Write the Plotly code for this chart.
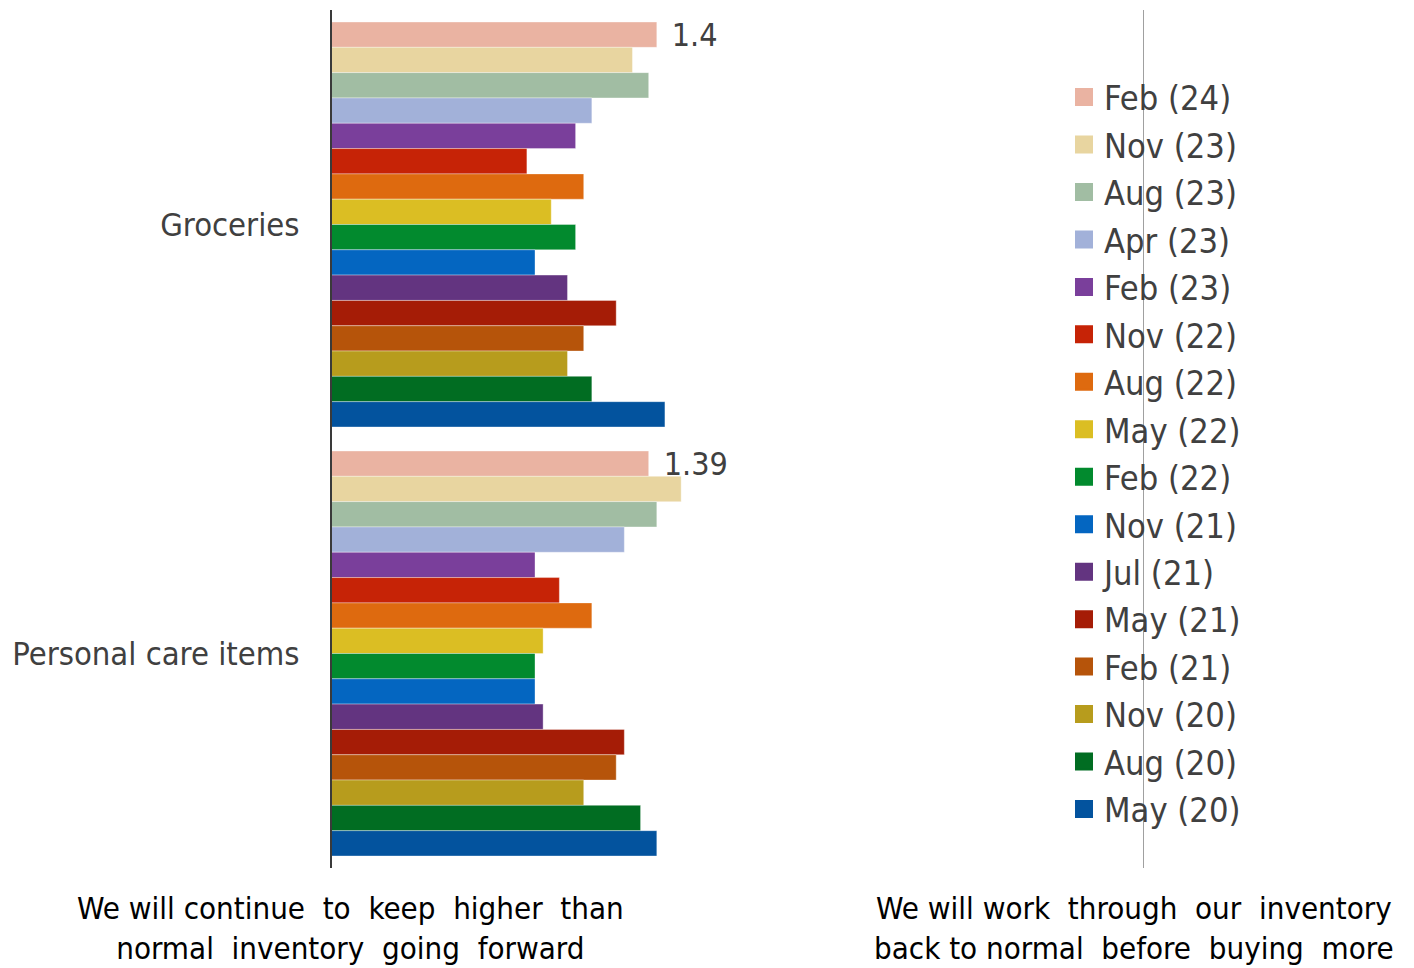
import plotly.graph_objects as go

categories = ["Groceries", "Personal care items"]
series = ["Feb (24)", "Nov (23)", "Aug (23)", "Apr (23)", "Feb (23)", "Nov (22)",
          "Aug (22)", "May (22)", "Feb (22)", "Nov (21)", "Jul (21)", "May (21)",
          "Feb (21)", "Nov (20)", "Aug (20)", "May (20)"]
groceries = [1.40, 1.37, 1.39, 1.32, 1.30, 1.24, 1.31, 1.27, 1.30, 1.25, 1.29, 1.35,
             1.31, 1.29, 1.32, 1.41]
personal_care = [1.39, 1.43, 1.40, 1.36, 1.25, 1.28, 1.32, 1.26, 1.25, 1.25, 1.26, 1.36,
                 1.35, 1.31, 1.38, 1.40]
colors = ["#EAB3A2", "#E8D5A0", "#A1BDA3", "#A2B1D9", "#7A3F9B", "#C62306",
          "#DE6A0F", "#DBBE23", "#028A2E", "#0466C1", "#633480", "#A51C06",
          "#B6540A", "#B79C1D", "#016D22", "#03539E"]
labelled_series = "Feb (24)"
left_label = ("We will continue\u00a0 to\u00a0 keep\u00a0 higher\u00a0 than<br>"
              "normal\u00a0 inventory\u00a0 going\u00a0 forward")
right_label = ("We will work\u00a0 through\u00a0 our\u00a0 inventory<br>"
               "back to normal\u00a0 before\u00a0 buying\u00a0 more")

FONT = "DejaVu Sans Condensed, DejaVu Sans, sans-serif"
TXT = "#404040"

fig = go.Figure()
for i, name in enumerate(series):
    vals = [groceries[i], personal_care[i]]
    show_text = name == labelled_series
    fig.add_trace(go.Bar(
        y=categories, x=vals, orientation="h", name=name,
        marker=dict(color=colors[i], line=dict(color="rgba(255,255,255,0.35)", width=1)),
        text=["\u00a0\u200a" + f"{v:g}" for v in vals] if show_text else None,
        textposition="outside" if show_text else None,
        constraintext="none", cliponaxis=False,
        textfont=dict(size=32, color=TXT, family=FONT),
        showlegend=False, legendgroup=name,
    ))
for i, name in enumerate(series):
    fig.add_trace(go.Scatter(
        x=[None], y=[None], mode="markers", name=name, legendgroup=name,
        marker=dict(symbol="square", size=18, color=colors[i],
                    line=dict(color=colors[i], width=2)),
        showlegend=True,
    ))

fig.add_shape(type="line", xref="x", yref="paper", x0=2, x1=2, y0=0, y1=1,
              line=dict(color="#A0A0A0", width=2))

fig.add_annotation(text=left_label, xref="paper", yref="paper", x=(350 - 332) / 812,
                   y=-0.07, xanchor="center", yanchor="middle", showarrow=False,
                   align="center", font=dict(size=31, color="#000000", family=FONT))
fig.add_annotation(text=right_label, xref="paper", yref="paper", x=(1396 - 332) / 812,
                   y=-0.07, xanchor="right", yanchor="middle", showarrow=False,
                   align="center", font=dict(size=31, color="#000000", family=FONT))

fig.update_layout(
    width=1414, height=968,
    margin=dict(l=332, r=270, t=10, b=100),
    paper_bgcolor="white", plot_bgcolor="white",
    barmode="group", bargap=0.056, bargroupgap=0,
    font=dict(family=FONT, size=32, color=TXT),
    xaxis=dict(range=[1, 2], showgrid=False, zeroline=False, showticklabels=False,
               ticks="", showline=False),
    yaxis=dict(range=[1.5, -0.5], showgrid=False, zeroline=False, showline=True,
               linecolor="#3A3A3A", linewidth=2, ticks="", ticklabelstandoff=24,
               tickfont=dict(size=32.5, color=TXT, family=FONT)),
    legend=dict(x=(1064 - 332) / 812, y=0.932, xanchor="left", yanchor="top",
                bgcolor="rgba(0,0,0,0)", font=dict(size=34.2, color=TXT, family=FONT),
                itemsizing="trace", traceorder="normal"),
)

fig.write_html("out.html")
